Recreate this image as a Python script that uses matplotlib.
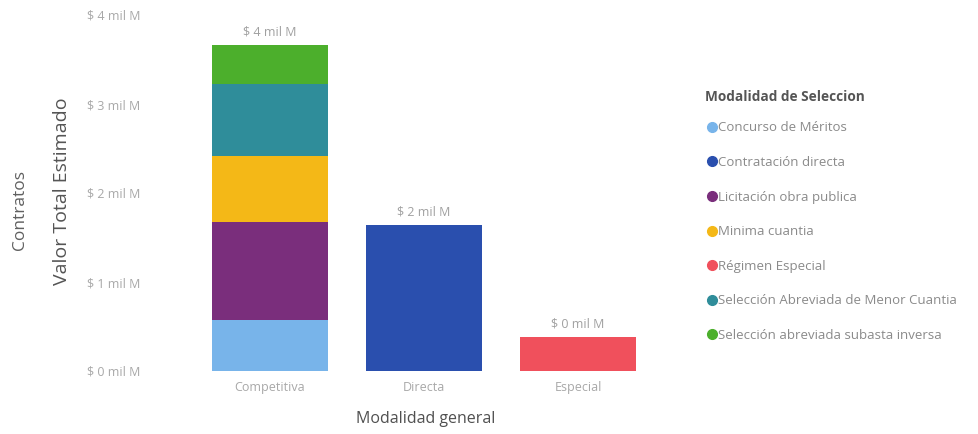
import numpy as np
import matplotlib
matplotlib.use("Agg")
import matplotlib.pyplot as plt
from matplotlib.lines import Line2D

plt.rcParams['font.family'] = ['Open Sans', 'DejaVu Sans']

# ---------------- data (mil M) ----------------
categorias = ["Competitiva", "Directa", "Especial"]
series = ["Concurso de Méritos", "Contratación directa", "Licitación obra publica",
          "Minima cuantia", "Régimen Especial", "Selección Abreviada de Menor Cuantia",
          "Selección abreviada subasta inversa"]
concurso = [0.57, 0.0, 0.0]
directa = [0.0, 1.64, 0.0]
licitacion = [1.10, 0.0, 0.0]
minima = [0.75, 0.0, 0.0]
regimen = [0.0, 0.0, 0.38]
abreviada_menor = [0.81, 0.0, 0.0]
subasta = [0.43, 0.0, 0.0]
colores = ["#78b4ea", "#2a4fae", "#7a2e7c", "#f4b817", "#f0505c", "#2f8d9a", "#4caf2c"]

valores = [concurso, directa, licitacion, minima, regimen, abreviada_menor, subasta]

# ---------------- figure ----------------
fig = plt.figure(figsize=(9.79, 4.34), dpi=100)
W, H = 979, 434
ax = fig.add_axes([150 / W, 63 / H, (655 - 150) / W, (371 - 15) / H])

x = np.arange(len(categorias))
base = np.zeros(len(categorias))
for vals, col in zip(valores, colores):
    vals = np.array(vals)
    ax.bar(x, vals, 0.75, bottom=base, color=col, linewidth=0)
    base += vals

# etiquetas de datos
for xi, tot in zip(x, base):
    ax.annotate("$ %d mil M" % round(tot), (xi, tot), xytext=(0, 5),
                textcoords="offset points", ha="center", va="bottom",
                fontsize=9, color="#a0a0a0")

ax.set_xlim(-(270 - 150) / 154, 2.5)
ax.set_ylim(0, 4.0)
ax.set_yticks([0, 1, 2, 3, 4])
ax.set_yticklabels(["$ %d mil M" % v for v in range(5)])
ax.set_xticks(x)
ax.set_xticklabels(categorias)
ax.tick_params(axis="both", length=0, labelsize=9, labelcolor="#a8a8a8")
ax.tick_params(axis="y", pad=7)
ax.tick_params(axis="x", pad=7)
for s in ax.spines.values():
    s.set_visible(False)

ax.set_xlabel("Modalidad general", fontsize=11.5, color="#505050")
ax.xaxis.set_label_coords((426 - 150) / (655 - 150), -40 / 356)
fig.text(62 / W, 1 - 191 / H, "Valor Total Estimado", rotation=90, ha="center",
         va="center", fontsize=14, color="#555555")
fig.text(20 / W, 1 - 210 / H, "Contratos", rotation=90, ha="center",
         va="center", fontsize=12.5, color="#606060")

# leyenda
fig.text(705 / W, 1 - 97 / H, "Modalidad de Seleccion", ha="left", va="center",
         fontsize=9.8, fontweight="bold", color="#555555")
handles = [Line2D([], [], marker="o", linestyle="", markersize=7,
                  markerfacecolor=c, markeredgecolor=c) for c in colores]
leg = fig.legend(handles, series, loc="upper left",
                 bbox_to_anchor=(701 / W, 1 - 116 / H), frameon=False,
                 fontsize=9.5, labelspacing=1.64, handletextpad=0.1,
                 handlelength=0.8, borderaxespad=0)
for t in leg.get_texts():
    t.set_color("#8a8a8a")

fig.savefig("out.png", dpi=100)
